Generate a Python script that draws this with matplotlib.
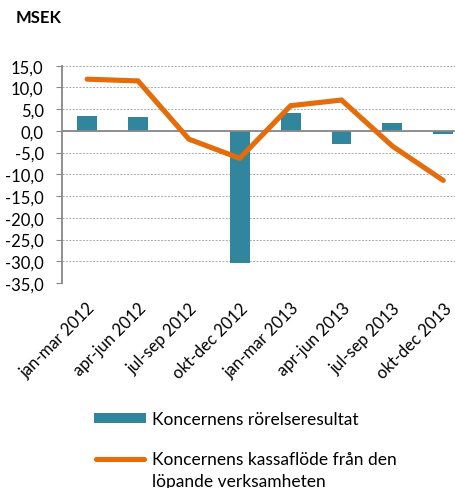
import matplotlib
matplotlib.use("Agg")
import matplotlib.pyplot as plt
from matplotlib.patches import Rectangle
from matplotlib.lines import Line2D

categories = ["jan-mar 2012", "apr-jun 2012", "jul-sep 2012", "okt-dec 2012",
              "jan-mar 2013", "apr-jun 2013", "jul-sep 2013", "okt-dec 2013"]
rorelseresultat = [3.4, 3.3, 0.3, -30.5, 4.2, -3.0, 1.8, -0.7]
kassaflode = [11.9, 11.5, -1.9, -6.3, 5.8, 7.1, -3.5, -11.4]
yticks = [15, 10, 5, 0, -5, -10, -15, -20, -25, -30, -35]
ytick_labels = ["15,0", "10,0", "5,0", "0,0", "-5,0", "-10,0", "-15,0", "-20,0", "-25,0", "-30,0", "-35,0"]
label_bar = "Koncernens rörelseresultat"
label_line_1 = "Koncernens kassaflöde från den"
label_line_2 = "löpande verksamheten"

plt.rcParams['font.family'] = ['Lato', 'DejaVu Sans']

BAR = "#31859C"
LINE = "#E46C0A"
W, H = 455, 489

fig = plt.figure(figsize=(4.55, 4.89), dpi=100)
ax = fig.add_axes([0.1356, 0.4192, 0.8945, 0.4444])

x = list(range(len(categories)))
ax.bar(x, rorelseresultat, width=0.39, color=BAR, zorder=2)
ax.plot(x, kassaflode, color=LINE, linewidth=3.7, solid_capstyle='round', solid_joinstyle='miter', zorder=3)
ax.axhline(0, color="#888888", linewidth=1.3, zorder=2.5)

ax.set_xlim(-0.5, 7.5)
ax.set_ylim(-35, 15)
ax.set_yticks(yticks)
ax.set_yticklabels(ytick_labels, fontsize=12)
ax.set_xticks(x)
ax.set_xticklabels(categories, rotation=45, ha='right', rotation_mode='anchor', fontsize=12)
ax.tick_params(axis='x', length=0, pad=12)
ax.tick_params(axis='y', length=4, color="#888888", direction='out', pad=9)

ax.grid(axis='y', color="#AAAAAA", linestyle=(0, (2, 1.5)), linewidth=0.7, zorder=0)
for s in ["top", "right", "bottom"]:
    ax.spines[s].set_visible(False)
ax.spines["left"].set_color("#888888")
ax.spines["left"].set_linewidth(1.3)

fig.text(16 / W, 1 - 18 / H, "MSEK", fontsize=12, fontweight='bold', va='center', ha='left')

# legend drawn manually
fig.patches.append(Rectangle((94 / W, 1 - 424 / H), 52 / W, 10 / H, transform=fig.transFigure,
                             facecolor=BAR, edgecolor='none'))
fig.text(152 / W, 1 - 425 / H, label_bar, fontsize=12.5, va='baseline', ha='left')
fig.lines.append(Line2D([96 / W, 144 / W], [1 - 460 / H, 1 - 460 / H], transform=fig.transFigure,
                        color=LINE, linewidth=3.7, solid_capstyle='round'))
fig.text(152 / W, 1 - 465 / H, label_line_1, fontsize=12.5, va='baseline', ha='left')
fig.text(152 / W, 1 - 487 / H, label_line_2, fontsize=12.5, va='baseline', ha='left')

fig.savefig("out.png", dpi=100)
